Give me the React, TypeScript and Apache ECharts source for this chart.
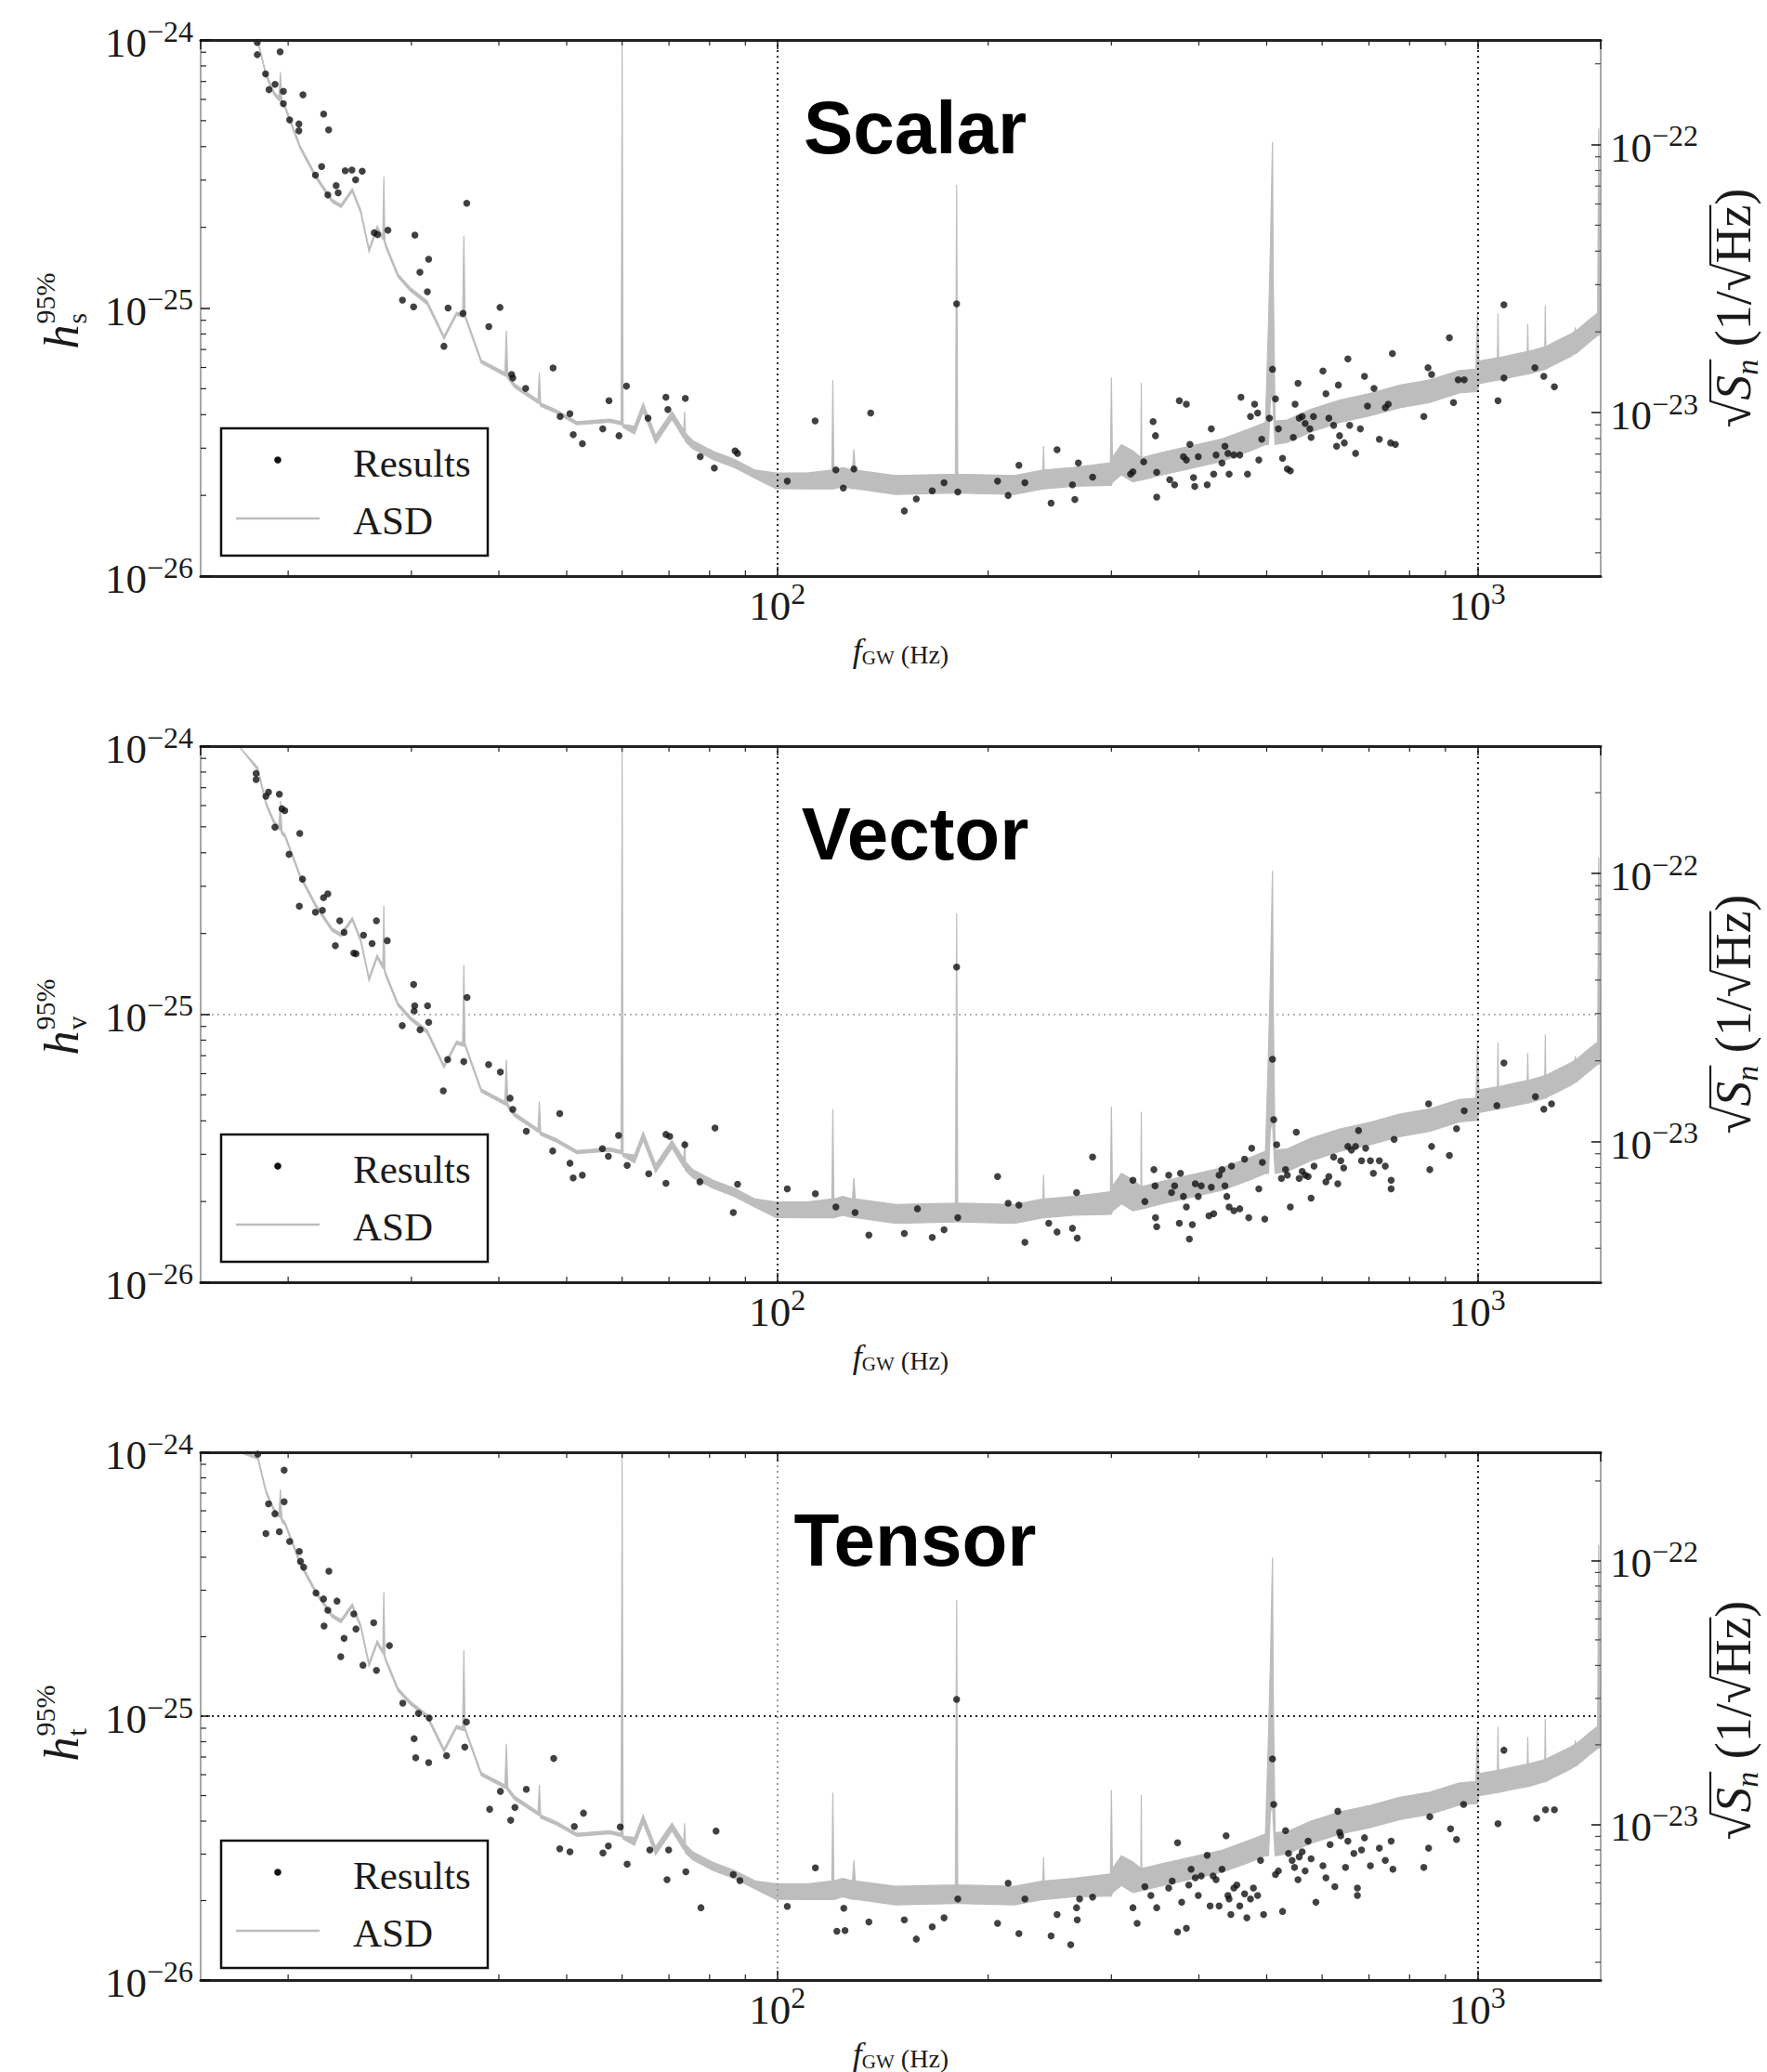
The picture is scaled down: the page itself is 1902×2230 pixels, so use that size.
import React, { useEffect, useRef } from 'react';
import * as echarts from 'echarts';

const W = 1902;
const H = 2230;
const SERIF = "'Liberation Serif', 'DejaVu Serif', serif";
const SANS = "'Liberation Sans', Arial, sans-serif";

// ---------- panels ----------
const panelTitles = ['Scalar', 'Vector', 'Tensor'];
const panelSubscripts = ['s', 'v', 't'];

// ---------- axes (values) ----------
const freqRange = [15, 1500]; // Hz
const hRange = [1, 100]; // h95% in units of 1e-26
const asdRanges = [
  [2.455, 245.5],
  [2.985, 298.5],
  [2.57, 257.0],
]; // sqrt(Sn) in units of 1e-24 /sqrt(Hz)
const xMinorTicks = [20, 30, 40, 50, 60, 70, 80, 90, 200, 300, 400, 500, 600, 700, 800, 900];
const hMinorTicks = [2, 3, 4, 5, 6, 7, 8, 9, 20, 30, 40, 50, 60, 70, 80, 90];
const asdMinorTicks = [3, 4, 5, 6, 7, 8, 9, 20, 30, 40, 50, 60, 70, 80, 90, 200];

// ---------- ASD (frequency, lower edge, upper edge) in 1e-24 /sqrt(Hz) ----------
const asdCurve = [
  [17.0, 300, 320], [18.1, 242.1, 248.9], [18.6, 179.5, 184.5], [19.1, 152.8, 157.1],
  [19.4, 146, 150], [19.5, 146, 186.2], [19.6, 140, 144], [19.8, 136.1, 139.9],
  [20.5, 106.9, 109.9], [20.8, 96.4, 99.1], [21.3, 85.9, 88.3], [21.9, 74.9, 77.0],
  [23.1, 60.9, 62.6], [23.8, 58.1, 59.7], [24.7, 66.7, 68.5], [25.4, 55.4, 57.0],
  [26.1, 39.7, 40.9], [26.8, 48.3, 49.7], [27.3, 44.4, 45.6], [27.4, 44.0, 75.9],
  [27.5, 42.4, 43.6], [27.6, 41.1, 42.3], [28.7, 32.0, 32.9], [29.9, 28.4, 29.2],
  [31.6, 25.3, 26.1], [33.4, 18.8, 19.3], [34.8, 23.1, 23.7], [35.5, 22.7, 23.3],
  [35.65, 22.7, 45.7], [35.8, 22.6, 23.2], [37.75, 15.3, 15.7], [40.4, 13.9, 14.3],
  [40.8, 13.7, 14.1], [41.0, 13.7, 20.2], [41.2, 13.4, 13.8], [42.1, 12.4, 12.8],
  [45.5, 10.85, 11.15], [45.7, 10.85, 14.1], [45.9, 10.55, 10.85], [48.3, 9.96, 10.24],
  [51.7, 9.0, 9.25], [57.6, 9.2, 9.46], [59.8, 9.0, 9.25], [60.0, 9.0, 1000],
  [60.2, 8.79, 9.03], [62.5, 8.32, 8.91], [64.3, 10.1, 10.84], [67.0, 7.67, 8.22],
  [70.7, 9.44, 10.1], [73.5, 8.0, 8.6], [73.7, 8.0, 10.1], [73.9, 7.8, 8.4],
  [75.7, 7.33, 7.86], [81.0, 6.68, 7.16], [86.8, 6.24, 6.69], [92.9, 5.69, 6.1],
  [99.5, 5.2, 5.95], [110.9, 5.19, 5.96], [119.6, 5.19, 6.1], [120.0, 5.19, 13.2],
  [120.4, 5.19, 6.1], [124.0, 5.31, 6.24], [128.0, 5.2, 6.1], [128.6, 5.2, 7.3],
  [129.2, 5.2, 6.1], [147.5, 4.95, 5.82], [179.6, 5.01, 5.89], [180.3, 5.01, 70.8],
  [181.0, 5.01, 5.89], [218.0, 4.95, 5.82], [239.5, 5.19, 6.1], [240.0, 5.19, 7.5],
  [240.5, 5.19, 6.1], [265.0, 5.31, 6.24], [299.0, 5.35, 6.49], [300.0, 5.35, 13.5],
  [301.0, 5.5, 6.8], [310.0, 5.86, 7.6], [322.0, 5.51, 7.2], [330.5, 5.6, 6.8],
  [331.0, 5.6, 12.9], [331.5, 5.6, 6.79], [355.0, 5.86, 7.11], [392.0, 6.21, 7.53],
  [432.0, 6.58, 7.98], [475.0, 7.21, 8.75], [498.0, 7.6, 9.2], [503.0, 7.6, 22.0],
  [506.0, 11.0, 40.0], [509.6, 12.0, 102.3], [511.0, 10.0, 30.0], [514.0, 7.6, 9.3],
  [535.0, 7.73, 9.38], [578.0, 8.47, 10.28], [636.0, 9.18, 11.14], [703.0, 9.73, 11.8],
  [774.0, 10.42, 12.65], [855.0, 10.91, 13.24], [942.0, 11.83, 14.35], [995.0, 11.97, 14.52],
  [1000.0, 11.97, 23.4], [1005.0, 12.82, 15.56], [1068.0, 13.2, 16.0], [1070.0, 13.2, 23.4],
  [1072.0, 13.2, 16.0], [1120.0, 13.55, 16.44], [1178.0, 13.9, 16.9], [1180.0, 13.9, 21.4],
  [1182.0, 13.9, 16.9], [1236.0, 14.39, 17.46], [1248.0, 14.5, 17.6], [1250.0, 14.5, 25.1],
  [1252.0, 14.5, 17.6], [1264.0, 14.72, 17.86], [1362.0, 16.26, 19.72], [1378.0, 16.6, 20.1],
  [1380.0, 16.6, 20.8], [1382.0, 16.6, 20.1], [1445.0, 18.32, 22.23], [1485.0, 19.4, 23.5],
  [1490.0, 19.4, 114.8], [1495.0, 19.6, 40.0], [1500.0, 19.9, 24.0],
];

// ---------- Results: [frequency Hz, h95% in 1e-26] ----------
const scalarResults = [
  [18.07, 97.9], [18.07, 88.1], [19.48, 90.3], [18.57, 74.7], [18.78, 65.3], [19.16, 68.3],
  [19.69, 64.3], [19.69, 57.9], [21.0, 62.4], [20.1, 50.3], [20.72, 48.6], [20.72, 45.8],
  [22.48, 52.9], [22.85, 46.2], [21.88, 31.3], [22.33, 33.7], [22.79, 26.4], [23.58, 26.9],
  [23.42, 28.6], [24.13, 32.5], [24.67, 32.7], [25.52, 32.4], [24.97, 30.1], [26.55, 19.1],
  [26.84, 18.8], [27.77, 19.5], [30.35, 18.7], [31.75, 15.2], [30.85, 13.6], [31.62, 11.5],
  [29.13, 10.7], [30.22, 10.1], [33.85, 10.0], [33.39, 7.2], [35.55, 9.55], [35.99, 24.6],
  [38.7, 8.52], [40.15, 10.05], [41.71, 5.65], [41.88, 5.48], [43.69, 5.01], [47.81, 5.98],
  [48.93, 3.94], [50.53, 4.03], [51.09, 3.37], [52.65, 3.12], [56.3, 3.54], [57.46, 4.51],
  [59.38, 3.34], [60.86, 5.11], [65.34, 3.88], [69.29, 4.65], [69.75, 4.18], [73.86, 4.6],
  [77.58, 2.79], [81.26, 2.53], [87.0, 2.93], [87.72, 2.87], [103.3, 2.26], [113.2, 3.79],
  [121.2, 2.49], [124.2, 2.13],
  [135.9, 4.06], [128.6, 2.51], [151.8, 1.75], [157.9, 1.94], [166.4, 2.08], [173.0, 2.23],
  [181.0, 2.06], [180.3, 10.36], [206.3, 2.26], [213.6, 2.0], [221.3, 2.59], [225.7, 2.23],
  [246.0, 1.87], [250.9, 2.96], [263.9, 2.19], [266.0, 1.93], [269.1, 2.64], [282.0, 2.34],
  [319.5, 2.4], [322.0, 2.45], [333.6, 2.67], [344.1, 3.77], [346.8, 3.34], [348.2, 2.44],
  [348.2, 1.97], [363.5, 2.29], [369.3, 2.19], [375.1, 4.51], [383.9, 4.38], [380.2, 2.79],
  [383.9, 2.71], [388.4, 3.1], [393.0, 2.33], [394.6, 2.16], [399.2, 2.79], [411.1, 2.19],
  [416.7, 3.54], [420.0, 2.4], [423.3, 2.83], [431.6, 2.64], [435.8, 3.05], [440.1, 2.87],
  [441.8, 2.4], [448.8, 2.83], [457.6, 2.83], [459.4, 4.65], [469.4, 2.4], [474.0, 3.94],
  [480.5, 4.38], [485.3, 4.06], [487.2, 2.71], [491.9, 3.24], [504.6, 3.88], [509.6, 5.91],
  [514.6, 4.58], [519.6, 3.54], [526.8, 2.75], [535.1, 2.51], [540.4, 2.47], [545.7, 3.29],
  [548.9, 4.38], [554.2, 5.24], [556.4, 3.88], [561.9, 3.94], [567.4, 3.71], [576.3, 3.54],
  [578.6, 3.29], [583.1, 3.94], [601.6, 5.82], [607.5, 4.79], [613.4, 3.88], [623.1, 3.65],
  [629.2, 3.05], [632.9, 5.16], [635.4, 3.34], [645.4, 3.14], [653.0, 6.46], [656.9, 3.65],
  [669.8, 2.87], [680.4, 3.54], [689.7, 5.56], [696.5, 4.31], [711.6, 5.01], [724.2, 3.24],
  [738.5, 4.25], [745.7, 4.38], [751.6, 3.14], [756.0, 6.76], [763.4, 3.1], [838.3, 3.94],
  [850.0, 5.99], [860.0, 5.65], [911.8, 7.74], [924.3, 4.44], [938.8, 5.4], [957.4, 5.4],
  [1070, 4.51], [1091, 10.29], [1091, 5.48], [1208, 5.99], [1244, 5.56], [1288, 5.08],
];

const vectorResults = [
  [18.0, 79.1], [18.0, 75.0], [18.59, 65.0], [18.75, 67.4], [19.43, 66.2], [19.6, 58.4],
  [19.78, 57.4], [19.15, 49.8], [20.78, 47.2], [20.06, 39.5], [20.97, 31.9], [20.75, 25.3],
  [21.88, 24.0], [22.39, 24.4], [22.47, 27.2], [22.79, 28.1], [23.7, 22.3], [23.36, 18.0],
  [24.04, 20.2], [24.82, 16.9], [25.0, 16.8], [25.63, 19.7], [26.36, 18.35], [26.74, 22.3],
  [27.71, 18.8], [30.22, 12.9], [30.33, 10.75], [30.27, 10.27], [31.64, 10.75], [31.75, 9.33],
  [29.11, 9.06], [30.87, 8.75], [36.02, 11.55], [33.8, 6.77], [33.32, 5.18], [35.64, 6.65],
  [38.67, 6.49], [40.2, 6.08], [41.51, 4.86], [41.88, 4.41], [43.78, 3.66], [48.87, 4.26],
  [47.75, 3.09], [50.54, 2.78], [51.08, 2.45], [52.64, 2.51], [56.23, 3.15], [57.34, 2.95],
  [59.3, 3.53], [61.0, 2.73], [65.49, 2.54], [69.3, 3.56], [70.17, 3.5], [69.3, 2.34],
  [73.74, 3.26], [77.49, 2.37], [81.44, 3.76], [87.72, 2.32], [86.49, 1.82], [103.3, 2.23],
  [113.3, 2.14], [121.2, 1.91],
  [129.1, 1.82], [135.1, 1.5], [151.8, 1.52], [158.5, 1.88], [166.4, 1.47], [173.0, 1.57],
  [180.3, 15.0], [181.0, 1.74], [206.3, 2.48], [213.6, 1.97], [225.7, 1.41], [221.3, 1.94],
  [244.1, 1.66], [250.9, 1.54], [263.9, 1.59], [267.5, 2.16], [268.1, 1.46], [282.0, 2.93],
  [322.0, 2.4], [334.9, 2.0], [345.0, 2.63], [346.3, 2.29], [346.8, 1.74], [348.2, 1.61],
  [362.2, 2.51], [365.6, 2.16], [369.3, 2.29], [375.1, 1.66], [376.5, 2.55], [380.2, 2.09],
  [383.9, 1.91], [387.7, 1.45], [391.5, 1.64], [395.3, 2.33], [399.2, 2.09], [403.1, 2.29],
  [413.5, 1.77], [416.7, 2.26], [420.0, 1.8], [427.5, 2.51], [431.6, 2.63], [435.8, 2.29],
  [438.5, 2.09], [441.8, 1.91], [445.4, 2.71], [448.8, 1.85], [457.6, 1.88], [464.9, 2.88],
  [471.3, 1.74], [475.9, 3.16], [487.2, 2.23], [492.9, 2.8], [496.8, 1.72], [509.6, 6.79],
  [511.7, 4.04], [516.7, 3.26], [524.8, 2.44], [532.0, 2.63], [535.1, 2.51], [540.4, 1.91],
  [551.1, 3.63], [556.4, 2.44], [561.9, 2.59], [567.4, 2.51], [573.0, 2.48], [578.6, 2.06],
  [584.2, 2.71], [607.5, 2.37], [613.4, 2.48], [623.1, 2.93], [631.7, 2.33], [637.9, 2.84],
  [644.1, 2.67], [653.0, 3.21], [660.7, 3.11], [669.8, 3.21], [676.3, 3.68], [683.0, 2.84],
  [692.3, 3.16], [703.2, 2.84], [710.1, 2.55], [724.2, 2.84], [738.5, 2.71], [752.9, 2.4],
  [760.3, 3.41], [752.9, 2.23], [851.6, 4.63], [860.0, 3.21], [855.0, 2.63], [911.8, 2.97],
  [933.5, 3.74], [957.4, 4.36], [1066, 4.56], [1091, 6.58], [1210, 4.92], [1244, 4.42],
  [1276, 4.63],
];

const tensorResults = [
  [18.1, 98.3], [19.74, 85.6], [18.75, 63.8], [19.15, 58.5], [19.74, 64.9], [18.59, 49.2],
  [19.43, 50.0], [20.1, 45.9], [20.75, 42.1], [20.83, 38.6], [21.05, 36.7], [21.92, 29.3],
  [22.47, 27.8], [22.87, 35.4], [22.79, 25.2], [23.49, 27.3], [22.51, 21.96], [24.04, 19.7],
  [24.82, 24.4], [25.0, 21.4], [23.78, 16.8], [26.5, 22.6], [25.58, 15.6], [26.74, 14.9],
  [27.91, 18.5], [29.16, 11.2], [30.7, 10.25], [31.81, 9.84], [30.27, 8.22], [30.43, 6.96],
  [31.75, 6.67], [33.68, 7.08], [35.76, 7.64], [35.95, 9.5], [38.81, 4.44], [40.2, 5.19],
  [41.59, 4.03], [42.17, 4.51], [43.78, 5.28], [47.91, 6.91], [48.87, 3.14], [50.54, 3.06],
  [51.27, 3.82], [52.84, 4.29], [56.33, 3.03], [57.34, 3.22], [59.63, 3.8], [61.0, 2.75],
  [65.72, 3.11], [69.92, 3.11], [69.55, 2.4], [73.99, 2.57], [77.76, 1.88], [81.72, 3.67],
  [86.49, 2.51], [88.39, 2.38], [103.3, 1.9], [113.3, 2.66], [121.6, 1.53], [124.4, 1.87],
  [124.9, 1.54], [135.1, 1.66], [151.8, 1.69], [157.9, 1.43], [166.4, 1.59], [173.0, 1.72],
  [180.3, 11.57], [181.0, 2.03], [206.3, 1.64], [213.6, 2.33], [221.3, 1.5], [225.7, 2.03],
  [246.0, 1.47], [250.9, 1.77], [262.4, 1.36], [267.5, 1.88], [268.1, 1.69], [270.2, 2.03],
  [282.0, 2.06], [322.0, 1.88], [326.5, 1.64], [334.9, 2.26], [341.6, 2.09], [348.2, 1.88],
  [362.2, 2.23], [366.4, 2.37], [372.9, 3.31], [372.9, 1.52], [378.0, 1.97], [383.9, 1.57],
  [387.0, 2.29], [389.9, 2.63], [395.3, 2.44], [399.2, 2.09], [403.1, 2.48], [411.1, 2.97],
  [415.1, 1.91], [419.2, 2.48], [423.3, 2.4], [427.5, 1.91], [431.6, 2.63], [437.5, 3.52],
  [440.1, 2.09], [441.8, 2.03], [444.4, 1.77], [448.8, 2.23], [453.2, 2.29], [457.6, 1.91],
  [464.9, 2.12], [468.4, 1.72], [474.0, 2.03], [478.6, 2.23], [485.3, 2.09], [490.0, 2.84],
  [494.9, 1.77], [509.6, 6.89], [511.7, 4.63], [514.6, 2.51], [519.6, 2.59], [526.8, 1.82],
  [532.0, 3.68], [537.2, 3.02], [543.6, 2.84], [547.9, 2.67], [554.2, 2.4], [556.4, 2.93],
  [561.9, 3.06], [567.4, 2.59], [573.0, 3.36], [578.6, 2.88], [587.8, 1.97], [601.6, 2.71],
  [607.5, 2.44], [615.9, 3.26], [625.6, 2.26], [631.7, 4.36], [635.4, 3.63], [637.9, 3.52],
  [648.0, 2.67], [653.0, 3.36], [666.0, 3.02], [673.8, 2.23], [673.8, 2.09], [683.0, 3.11],
  [689.7, 3.46], [703.2, 2.71], [724.2, 3.16], [738.5, 2.84], [752.9, 3.36], [757.3, 2.63],
  [838.3, 2.67], [851.6, 3.16], [855.0, 4.16], [915.4, 3.74], [933.5, 3.41], [955.5, 4.63],
  [1070, 3.91], [1091, 7.43], [1215, 4.1], [1251, 4.42], [1288, 4.42],
];

const panelResults = [scalarResults, vectorResults, tensorResults];

// ---------- layout ----------
const GRID_LEFT = 216;
const GRID_W = 1507;
const GRID_H = 577;
const panelTops = [43, 803, 1563];

const tickRich = {
  b: { fontFamily: SERIF, fontSize: 45, color: '#1a1a1a', verticalAlign: 'bottom' },
  s: { fontFamily: SERIF, fontSize: 32, color: '#1a1a1a', verticalAlign: 'bottom', padding: [0, 0, 19, 0] },
};

function expText(n: number) {
  return n < 0 ? '\u2212' + String(-n) : String(n);
}
function powLabel(v: number, shift: number) {
  const e = Math.log10(v);
  const r = Math.round(e);
  if (Math.abs(e - r) > 1e-6) return '';
  return `{b|10}{s|${expText(r + shift)}}`;
}

function measure(text: string, font: string) {
  const ctx = document.createElement('canvas').getContext('2d');
  if (!ctx) return text.length * 20;
  ctx.font = font;
  return ctx.measureText(text).width;
}

function txt(x: number, y: number, text: string, font: string, align = 'left', valign = 'middle', fill = '#1a1a1a') {
  return {
    type: 'text',
    x,
    y,
    silent: true,
    style: { text, font, fill, align, verticalAlign: valign, textAlign: align, textVerticalAlign: valign },
  };
}

function leftTitle(cx: number, cy: number, sub: string) {
  return {
    type: 'group',
    x: cx,
    y: cy,
    rotation: Math.PI / 2,
    children: [
      txt(-44, 2, 'h', `italic 52px ${SERIF}`),
      txt(-17, -16, '95%', `30px ${SERIF}`),
      txt(-17, 18, sub, `30px ${SERIF}`),
    ],
  };
}

function rightTitle(cx: number, cy: number) {
  const M = 54;
  const S = 34;
  const main = `${M}px ${SERIF}`;
  const ital = `italic ${M}px ${SERIF}`;
  const subF = `italic ${S}px ${SERIF}`;
  const segs = [
    { t: '\u221A', f: main, dy: 0, o: 0 },
    { t: 'S', f: ital, dy: 0, o: 1 },
    { t: 'n', f: subF, dy: 14, o: 1 },
    { t: ' (1/', f: main, dy: 0, o: 0 },
    { t: '\u221A', f: main, dy: 0, o: 0 },
    { t: 'Hz', f: main, dy: 0, o: 2 },
    { t: ')', f: main, dy: 0, o: 0 },
  ];
  const widths = segs.map((s) => measure(s.t, s.f));
  const total = widths.reduce((a, b) => a + b, 0);
  let x = -total / 2;
  const children: any[] = [];
  const over: Record<number, number[]> = { 1: [Infinity, -Infinity], 2: [Infinity, -Infinity] };
  segs.forEach((s, i) => {
    children.push(txt(x, s.dy, s.t, s.f));
    if (s.o) {
      over[s.o][0] = Math.min(over[s.o][0], x);
      over[s.o][1] = Math.max(over[s.o][1], x + widths[i]);
    }
    x += widths[i];
  });
  [1, 2].forEach((k) => {
    children.push({
      type: 'line',
      silent: true,
      shape: { x1: over[k][0] - 2, y1: -25, x2: over[k][1], y2: -25 },
      style: { stroke: '#1a1a1a', lineWidth: 2.2 },
    });
  });
  return { type: 'group', x: cx, y: cy, rotation: Math.PI / 2, children };
}

function legendBox(top: number) {
  return {
    type: 'group',
    z: 20,
    children: [
      { type: 'rect', shape: { x: 238, y: top + 418, width: 287, height: 137 }, style: { fill: '#fff', stroke: '#111', lineWidth: 2.5 } },
      { type: 'circle', shape: { cx: 299, cy: top + 452, r: 3.8 }, style: { fill: '#111' } },
      txt(380, top + 455, 'Results', `43px ${SERIF}`),
      { type: 'line', shape: { x1: 254, y1: top + 515, x2: 344, y2: top + 515 }, style: { stroke: '#bdbdbd', lineWidth: 2.5 } },
      txt(380, top + 517, 'ASD', `43px ${SERIF}`),
    ],
  };
}

function buildOption() {
  const grid: any[] = [];
  const xAxis: any[] = [];
  const yAxis: any[] = [];
  const series: any[] = [];
  const graphic: any[] = [];

  panelTops.forEach((top, i) => {
    grid.push({ left: GRID_LEFT, top, width: GRID_W, height: GRID_H, containLabel: false });

    const xCommon = {
      type: 'log',
      logBase: 10,
      gridIndex: i,
      min: freqRange[0],
      max: freqRange[1],
      z: 6,
      splitLine: { show: false },
      minorTick: { show: false },
      axisTick: { show: true, inside: true, length: 10, lineStyle: { color: '#111', width: 1.5 } },
      axisLine: { show: true, lineStyle: { color: '#222', width: 3 } },
    };
    xAxis.push({
      ...xCommon,
      position: 'bottom',
      axisLabel: {
        show: true,
        margin: 3,
        formatter: (v: number) => powLabel(v, 0),
        rich: tickRich,
        showMinLabel: false,
        showMaxLabel: false,
      },
      name: '{i|f}{g|GW}{u| (Hz)}',
      nameLocation: 'middle',
      nameGap: 62,
      nameTextStyle: {
        rich: {
          i: { fontFamily: SERIF, fontStyle: 'italic', fontSize: 36, color: '#1a1a1a', verticalAlign: 'bottom' },
          g: { fontFamily: SERIF, fontSize: 21, color: '#1a1a1a', verticalAlign: 'bottom' },
          u: { fontFamily: SERIF, fontSize: 28, color: '#1a1a1a', verticalAlign: 'bottom' },
        },
      },
    });
    xAxis.push({ ...xCommon, position: 'top', axisLabel: { show: false } });

    yAxis.push({
      type: 'log',
      logBase: 10,
      gridIndex: i,
      position: 'left',
      min: hRange[0],
      max: hRange[1],
      z: 6,
      splitLine: { show: false },
      minorTick: { show: false },
      axisLine: { show: true, lineStyle: { color: '#8a8a8a', width: 1.5 } },
      axisTick: { show: true, inside: true, length: 10, lineStyle: { color: '#111', width: 1.5 } },
      axisLabel: { margin: 8, formatter: (v: number) => powLabel(v, -26), rich: tickRich },
    });
    yAxis.push({
      type: 'log',
      logBase: 10,
      gridIndex: i,
      position: 'right',
      min: asdRanges[i][0],
      max: asdRanges[i][1],
      z: 6,
      splitLine: { show: false },
      minorTick: { show: false },
      axisLine: { show: true, lineStyle: { color: '#8a8a8a', width: 1.5 } },
      axisTick: { show: true, inside: true, length: 10, lineStyle: { color: '#111', width: 1.5 } },
      axisLabel: {
        margin: 10,
        formatter: (v: number) => powLabel(v, -24),
        rich: tickRich,
        showMinLabel: false,
        showMaxLabel: false,
      },
    });

    const xi = 2 * i;
    const yl = 2 * i;
    const yr = 2 * i + 1;

    // ASD band on the right axis
    series.push({
      type: 'custom',
      name: 'ASD',
      xAxisIndex: xi,
      yAxisIndex: yr,
      z: 2,
      silent: true,
      data: [[100, 10]],
      renderItem: (params: any, api: any) => {
        const cs = params.coordSys;
        const clampY = (p: number[]) => [p[0], Math.min(cs.y + cs.height, Math.max(cs.y, p[1]))];
        const upper = asdCurve.map((d) => clampY(api.coord([d[0], d[2]])));
        const lower = asdCurve.map((d) => clampY(api.coord([d[0], d[1]]))).reverse();
        return {
          type: 'polygon',
          shape: { points: upper.concat(lower) },
          style: { fill: '#bdbdbd', stroke: '#bdbdbd', lineWidth: 1.2 },
        };
      },
    });

    // Results
    const vLine100 = i === 2 ? '#9a9a9a' : '#222';
    const markData: any[] = [
      { xAxis: 100, lineStyle: { color: vLine100 } },
      { xAxis: 1000, lineStyle: { color: '#222' } },
    ];
    if (i === 1) markData.push({ yAxis: 10, lineStyle: { color: '#b5b5b5' } });
    if (i === 2) markData.push({ yAxis: 10, lineStyle: { color: '#222' } });
    series.push({
      type: 'scatter',
      name: 'Results',
      xAxisIndex: xi,
      yAxisIndex: yl,
      z: 4,
      symbol: 'circle',
      symbolSize: 7.5,
      itemStyle: { color: '#111' },
      data: panelResults[i],
      markLine: {
        silent: true,
        symbol: ['none', 'none'],
        label: { show: false },
        lineStyle: { type: [2, 4], width: 2, color: '#222' },
        data: markData,
      },
    });

    // minor ticks on bottom/top/left
    series.push({
      type: 'custom',
      name: 'ticks',
      xAxisIndex: xi,
      yAxisIndex: yl,
      z: 7,
      silent: true,
      data: [[100, 10]],
      renderItem: (params: any, api: any) => {
        const cs = params.coordSys;
        const children: any[] = [];
        const st = { stroke: '#222', lineWidth: 1.2 };
        xMinorTicks.forEach((f) => {
          const x = api.coord([f, 10])[0];
          children.push({ type: 'line', shape: { x1: x, y1: cs.y + cs.height, x2: x, y2: cs.y + cs.height - 6 }, style: st });
          children.push({ type: 'line', shape: { x1: x, y1: cs.y, x2: x, y2: cs.y + 6 }, style: st });
        });
        hMinorTicks.forEach((v) => {
          const y = api.coord([100, v])[1];
          children.push({ type: 'line', shape: { x1: cs.x, y1: y, x2: cs.x + 6, y2: y }, style: st });
        });
        return { type: 'group', children };
      },
    });
    // minor ticks on right
    series.push({
      type: 'custom',
      name: 'rticks',
      xAxisIndex: xi,
      yAxisIndex: yr,
      z: 7,
      silent: true,
      data: [[100, 10]],
      renderItem: (params: any, api: any) => {
        const cs = params.coordSys;
        const children: any[] = [];
        const st = { stroke: '#444', lineWidth: 1.2 };
        asdMinorTicks
          .filter((v) => v > asdRanges[i][0] && v < asdRanges[i][1])
          .forEach((v) => {
            const y = api.coord([100, v])[1];
            children.push({ type: 'line', shape: { x1: cs.x + cs.width, y1: y, x2: cs.x + cs.width - 6, y2: y }, style: st });
          });
        return { type: 'group', children };
      },
    });

    // graphics
    graphic.push(txt(985, top + 94, panelTitles[i], `bold 80px ${SANS}`, 'center', 'middle', '#000'));
    graphic.push(legendBox(top));
    graphic.push(leftTitle(64, top + GRID_H / 2, panelSubscripts[i]));
    graphic.push(rightTitle(1866, top + GRID_H / 2));
  });

  return {
    animation: false,
    backgroundColor: '#ffffff',
    grid,
    xAxis,
    yAxis,
    series,
    graphic,
  };
}

export default function App() {
  const ref = useRef<HTMLDivElement>(null);
  useEffect(() => {
    document.body.style.margin = '0';
    if (!ref.current) return;
    const chart = echarts.init(ref.current, null, { renderer: 'svg' });
    chart.setOption(buildOption() as any);
    return () => chart.dispose();
  }, []);
  return <div ref={ref} style={{ width: W, height: H, background: '#fff' }} />;
}
